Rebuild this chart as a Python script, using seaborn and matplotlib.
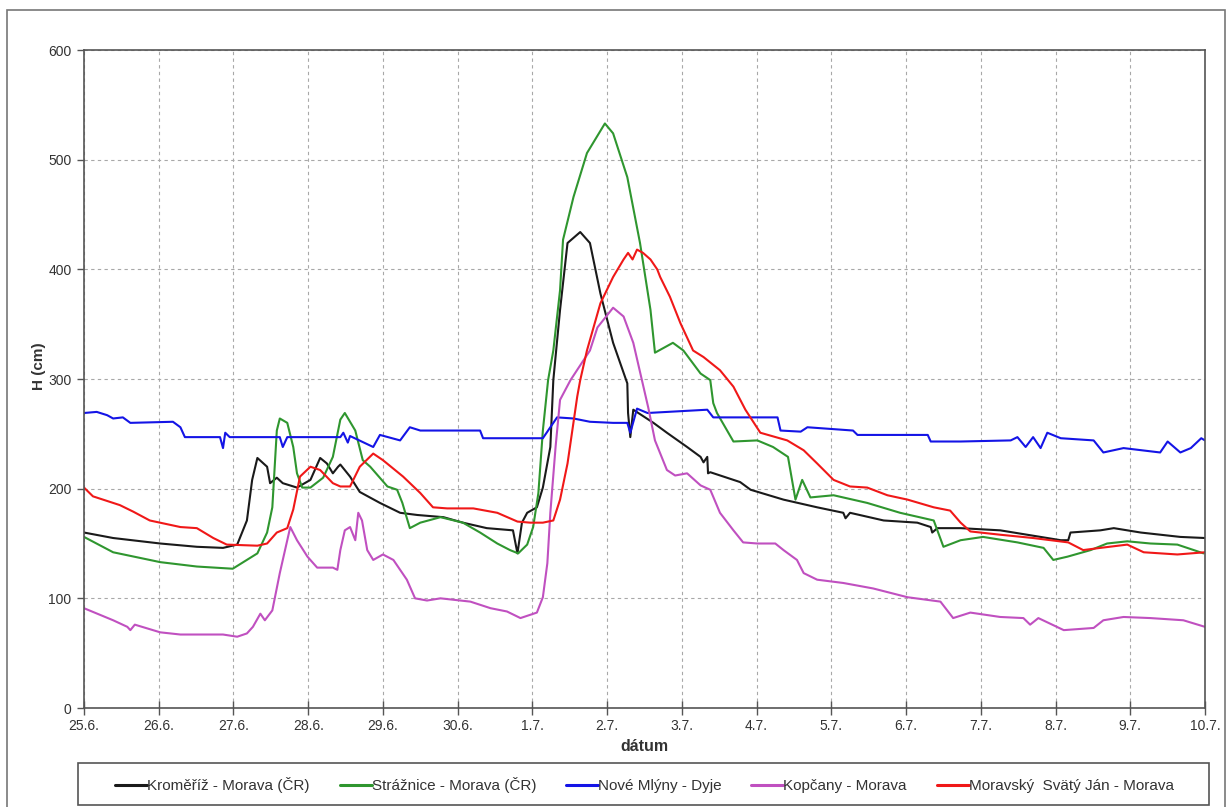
import numpy as np
import pandas as pd
import matplotlib
matplotlib.use("Agg")
import matplotlib.pyplot as plt
import seaborn as sns
from matplotlib.patches import Rectangle

# x positions are days since 25.6.
tick_labels = ["25.6.", "26.6.", "27.6.", "28.6.", "29.6.", "30.6.", "1.7.", "2.7.",
               "3.7.", "4.7.", "5.7.", "6.7.", "7.7.", "8.7.", "9.7.", "10.7."]

kromeriz_t = [0, 0.39, 1.02, 1.51, 1.86, 2.05, 2.18, 2.25, 2.32, 2.45, 2.49, 2.58, 2.66, 2.85,
              3.03, 3.16, 3.25, 3.33, 3.40, 3.43, 3.56, 3.69, 3.96, 4.23, 4.46, 4.81, 5.07,
              5.39, 5.74, 5.80, 5.86, 5.93, 6.06, 6.14, 6.24, 6.28, 6.37, 6.47, 6.64, 6.77,
              6.91, 7.08, 7.27, 7.28, 7.31, 7.35, 7.62, 7.80, 8.07, 8.25, 8.29, 8.34, 8.35,
              8.38, 8.78, 8.92, 9.36, 9.81, 10.16, 10.19, 10.25, 10.70, 11.15, 11.33, 11.35,
              11.42, 11.73, 12.26, 12.80, 13.07, 13.17, 13.20, 13.60, 13.78, 14.14, 14.67, 15.0]
kromeriz_v = [160, 155, 150, 147, 146, 149, 171, 208, 228, 220, 205, 210, 205, 201,
              208, 228, 223, 214, 220, 222, 211, 197, 187, 178, 176, 174, 169,
              164, 162, 141, 169, 178, 183, 201, 238, 299, 363, 424, 434, 424,
              378, 333, 296, 269, 247, 272, 260, 251, 238, 229, 224, 229, 214,
              215, 206, 199, 190, 183, 178, 173, 178, 171, 169, 165, 160,
              164, 164, 162, 156, 153, 153, 160, 162, 164, 160, 156, 155]

straznice_t = [0, 0.39, 1.02, 1.51, 1.99, 2.32, 2.45, 2.52, 2.58, 2.62, 2.72, 2.80, 2.85, 2.92,
               3.03, 3.20, 3.33, 3.43, 3.49, 3.63, 3.73, 3.83, 4.06, 4.19, 4.26, 4.36, 4.50,
               4.77, 5.07, 5.30, 5.53, 5.70, 5.81, 5.93, 6.01, 6.08, 6.14, 6.21, 6.28, 6.37,
               6.41, 6.55, 6.73, 6.97, 7.08, 7.27, 7.44, 7.58, 7.64, 7.88, 8.02, 8.25, 8.38,
               8.42, 8.47, 8.69, 9.01, 9.22, 9.42, 9.52, 9.61, 9.72, 10.03, 10.48, 10.92,
               11.37, 11.50, 11.73, 12.03, 12.49, 12.84, 12.97, 13.16, 13.47, 13.69, 13.96,
               14.27, 14.63, 14.85, 14.98]
straznice_v = [156, 142, 133, 129, 127, 141, 160, 183, 253, 264, 260, 238, 214, 201,
               201, 210, 229, 263, 269, 253, 226, 220, 202, 199, 187, 164, 169,
               174, 169, 160, 150, 144, 141, 149, 165, 196, 253, 299, 326, 381,
               427, 466, 506, 533, 524, 484, 424, 363, 324, 333, 326, 305, 299,
               278, 269, 243, 244, 238, 229, 190, 208, 192, 194, 187, 178,
               171, 147, 153, 156, 151, 146, 135, 138, 144, 150, 152,
               150, 149, 144, 141]

nove_mlyny_t = [0, 0.17, 0.31, 0.39, 0.52, 0.62, 1.19, 1.29, 1.35, 1.82, 1.86, 1.89, 1.95,
                2.62, 2.66, 2.72, 3.43, 3.47, 3.53, 3.56, 3.87, 3.96, 4.23, 4.36, 4.50, 5.30,
                5.34, 6.14, 6.33, 6.55, 6.77, 7.08, 7.27, 7.31, 7.40, 7.54, 8.34, 8.42, 9.28,
                9.32, 9.59, 9.68, 10.29, 10.35, 11.29, 11.33, 11.73, 12.40, 12.49, 12.60,
                12.70, 12.80, 12.89, 13.07, 13.51, 13.64, 13.91, 14.40, 14.50, 14.67, 14.81,
                14.95, 15.0]
nove_mlyny_v = [269, 270, 267, 264, 265, 260, 261, 256, 247, 247, 237, 251, 247,
                247, 238, 247, 247, 251, 242, 248, 238, 249, 244, 256, 253, 253,
                246, 246, 265, 264, 261, 260, 260, 251, 273, 269, 272, 265, 265,
                253, 252, 256, 253, 249, 249, 243, 243, 244, 247, 238,
                247, 237, 251, 246, 244, 233, 237, 233, 243, 233, 237,
                246, 244]

kopcany_t = [0, 0.39, 0.58, 0.62, 0.68, 1.02, 1.29, 1.51, 1.86, 2.05, 2.18, 2.26, 2.36, 2.42,
             2.52, 2.62, 2.76, 2.85, 2.99, 3.12, 3.33, 3.39, 3.43, 3.49, 3.56, 3.63, 3.67,
             3.72, 3.79, 3.87, 4.00, 4.14, 4.32, 4.43, 4.59, 4.77, 5.17, 5.44, 5.66, 5.84,
             6.06, 6.14, 6.20, 6.24, 6.31, 6.37, 6.51, 6.77, 6.87, 7.08, 7.22, 7.35, 7.55,
             7.64, 7.80, 7.91, 8.07, 8.25, 8.38, 8.51, 8.69, 8.82, 9.01, 9.25, 9.36, 9.54,
             9.63, 9.81, 10.16, 10.56, 11.02, 11.46, 11.63, 11.86, 12.26, 12.57, 12.66,
             12.77, 13.11, 13.51, 13.64, 13.91, 14.27, 14.71, 15.0]
kopcany_v = [91, 80, 74, 71, 76, 69, 67, 67, 67, 65, 68, 74, 86, 80,
             89, 123, 165, 153, 138, 128, 128, 126, 144, 162, 165, 153, 178,
             171, 144, 135, 140, 135, 117, 100, 98, 100, 97, 91, 88, 82,
             87, 101, 132, 178, 238, 281, 299, 326, 347, 365, 357, 333, 274,
             244, 217, 212, 214, 203, 199, 178, 162, 151, 150, 150, 144, 135,
             123, 117, 114, 109, 101, 97, 82, 87, 83, 82, 76,
             82, 71, 73, 80, 83, 82, 80, 74]

msj_t = [0, 0.12, 0.48, 0.66, 0.88, 1.29, 1.51, 1.73, 1.91, 2.32, 2.45, 2.58, 2.72, 2.80, 2.89,
         3.03, 3.16, 3.33, 3.43, 3.56, 3.69, 3.87, 4.00, 4.27, 4.50, 4.67, 4.86, 5.21, 5.53,
         5.80, 5.97, 6.14, 6.28, 6.37, 6.47, 6.60, 6.64, 6.73, 6.91, 7.08, 7.22, 7.28, 7.34,
         7.40, 7.48, 7.58, 7.67, 7.71, 7.84, 7.98, 8.15, 8.29, 8.51, 8.69, 8.85, 9.05, 9.41,
         9.63, 9.81, 10.03, 10.25, 10.48, 10.75, 11.02, 11.37, 11.59, 11.73, 11.86, 12.26,
         12.70, 13.17, 13.37, 13.60, 13.96, 14.18, 14.63, 15.0]
msj_v = [201, 193, 185, 179, 171, 165, 164, 155, 149, 148, 150, 160, 164, 181, 211,
         220, 217, 205, 202, 202, 220, 232, 226, 211, 196, 183, 182, 182, 178,
         170, 169, 169, 171, 190, 223, 284, 299, 326, 369, 393, 409, 415, 409,
         418, 415, 409, 400, 393, 375, 351, 326, 320, 308, 293, 272, 251, 244,
         235, 223, 208, 202, 201, 194, 190, 183, 180, 169, 161, 158,
         155, 151, 144, 146, 149, 142, 140, 142]

series_names = ["Kroměříž - Morava (ČR)", "Strážnice - Morava (ČR)", "Nové Mlýny - Dyje",
                "Kopčany - Morava", "Moravský  Svätý Ján - Morava"]
series_t = [kromeriz_t, straznice_t, nove_mlyny_t, kopcany_t, msj_t]
series_v = [kromeriz_v, straznice_v, nove_mlyny_v, kopcany_v, msj_v]
colors = ["#1a1a1a", "#2f962f", "#1414e6", "#c050c0", "#f01818"]

frames = []
for name, t, v in zip(series_names, series_t, series_v):
    frames.append(pd.DataFrame({"den": t, "H": v, "stanica": name}))
df = pd.concat(frames, ignore_index=True)

sns.set_theme(style="white")
plt.rcParams["font.family"] = ["Liberation Sans", "DejaVu Sans"]

W, H = 1229, 807
fig = plt.figure(figsize=(W / 100, H / 100), dpi=100)
ax = fig.add_axes([84 / W, 1 - 708 / H, (1205 - 84) / W, (708 - 50) / H])

sns.lineplot(data=df, x="den", y="H", hue="stanica", palette=colors,
             hue_order=series_names, estimator=None, sort=False, linewidth=1.5,
             ax=ax, legend=False)

ax.set_xlim(0, 15)
ax.set_ylim(0, 600)
ax.set_xticks(np.arange(len(tick_labels)))
ax.set_xticklabels(tick_labels)
ax.set_yticks(np.arange(0, 601, 100))
ax.grid(True, color="#a8a8a8", linestyle=(0, (3, 3)), linewidth=0.8)
ax.set_axisbelow(True)
for s in ax.spines.values():
    s.set_color("#555555")
    s.set_linewidth(1.2)
ax.tick_params(axis="x", labelsize=10, colors="#555555", labelcolor="#333333",
               length=10, width=1, direction="inout", bottom=True, pad=3)
ax.tick_params(axis="y", labelsize=10, colors="#555555", labelcolor="#333333",
               length=5, width=1, direction="out", left=True, pad=4)
ax.set_xlabel("dátum", fontsize=11.5, fontweight="bold", color="#333333")
ax.set_ylabel("H (cm)", fontsize=11, fontweight="bold", color="#333333")
ax.xaxis.set_label_coords(0.5, -0.047)
ax.yaxis.set_label_coords(-0.034, 0.52)

handles = [plt.Line2D([], [], color=c, lw=2.2) for c in colors]
leg = fig.legend(handles, series_names, loc="center",
                 bbox_to_anchor=(644.5 / W, 1 - 785 / H),
                 ncol=5, frameon=False, fontsize=11,
                 handlelength=2.1, handletextpad=0.0, columnspacing=1.95)
for txt in leg.get_texts():
    txt.set_color("#333333")

# legend box
fig.patches.append(Rectangle((78 / W, 1 - 805 / H), (1209 - 78) / W, (805 - 763) / H,
                             transform=fig.transFigure, fill=False, edgecolor="#555555",
                             linewidth=1.2, zorder=1))
# outer chart border
fig.patches.append(Rectangle((7 / W, -0.02), (1225 - 7) / W, 1.02 - 10 / H,
                             transform=fig.transFigure, fill=False, edgecolor="#777777",
                             linewidth=1.2, zorder=0, clip_on=False))

fig.savefig("out.png", dpi=100)
